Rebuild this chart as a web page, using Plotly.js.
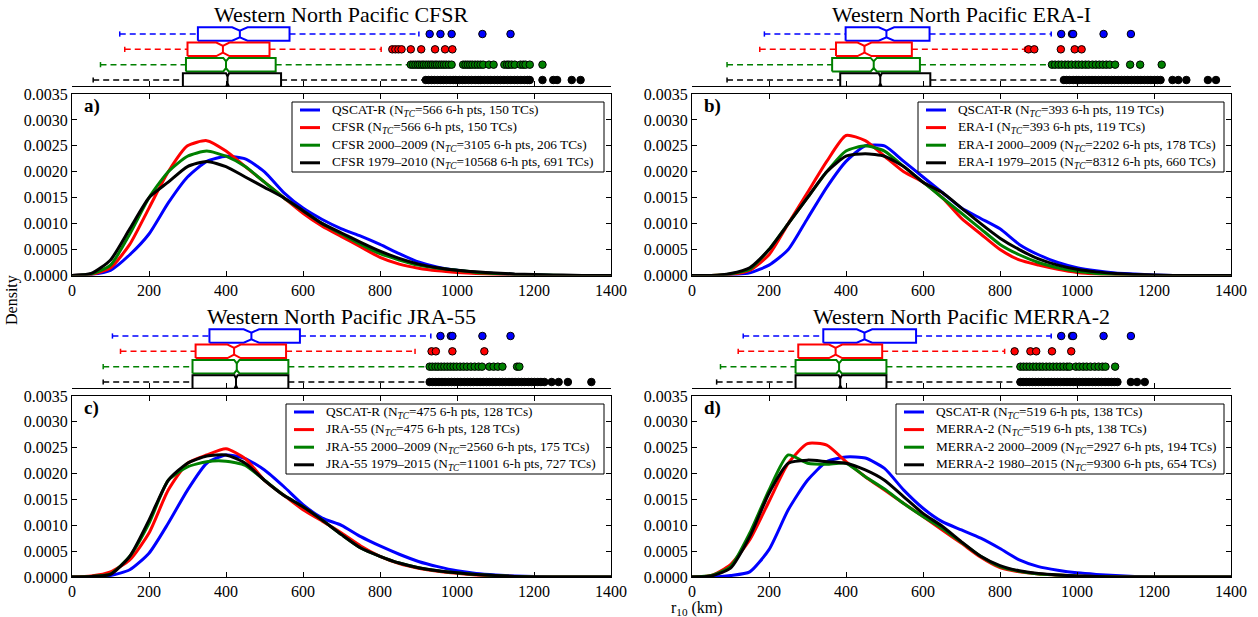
<!DOCTYPE html>
<html><head><meta charset="utf-8">
<script src="https://cdn.plot.ly/plotly-3.0.1.min.js"></script>
<style>html,body{margin:0;padding:0;background:#fff}#chart{width:1258px;height:617px}</style>
</head><body><div id="chart"></div>
<script>
// ---------- data ----------
const xGrid = [0,50,100,150,200,250,300,350,400,450,500,550,600,650,700,750,800,850,900,950,1000,1050,1100,1150,1200,1250,1300,1350,1400];
const xTicks = [0,200,400,600,800,1000,1200,1400];

// panel a: CFSR
const aQscat = [0,0.00002,0.0001,0.0004,0.0008,0.0014,0.0019,0.0022,0.0023,0.00225,0.002,0.0016,0.0013,0.00108,0.0009,0.00076,0.0006,0.00042,0.00026,0.00016,0.0001,0.00006,0.00004,0.00002,0.00001,0,0,0,0];
const aRean = [0,0.00002,0.00015,0.0006,0.0013,0.002,0.0025,0.0026,0.0024,0.0021,0.0018,0.0015,0.0012,0.00095,0.00075,0.00055,0.00035,0.00022,0.00014,0.00009,0.00006,0.00004,0.00002,0.00001,0,0,0,0,0];
const aRean0009 = [0,0.00003,0.0002,0.0008,0.0015,0.002,0.0023,0.0024,0.0023,0.0021,0.0018,0.0015,0.00125,0.001,0.0008,0.0006,0.00042,0.0003,0.0002,0.00014,0.0001,0.00006,0.00004,0.00002,0.00001,0.000005,0,0,0];
const aReanAll = [0,0.00004,0.0003,0.0009,0.0015,0.0018,0.0021,0.0022,0.0021,0.0019,0.0017,0.0015,0.00125,0.001,0.00082,0.00064,0.00047,0.00033,0.00022,0.00015,0.0001,0.00007,0.00005,0.00003,0.00002,0.00001,0.000005,0,0];
const aNames = ['QSCAT-R (N<sub><i>TC</i></sub>=566 6-h pts, 150 TCs)','CFSR (N<sub><i>TC</i></sub>=566 6-h pts, 150 TCs)','CFSR 2000–2009 (N<sub><i>TC</i></sub>=3105 6-h pts, 206 TCs)','CFSR 1979–2010 (N<sub><i>TC</i></sub>=10568 6-h pts, 691 TCs)'];
const aLow = [124,137,74,55];
const aQ1 = [327,300,296,288];
const aMed = [436,392,400,404];
const aQ3 = [565,513,529,543];
const aHigh = [901,803,880,919];
const aNotch = [20,17,7,4];
const aOutBlue = [929,957,986,1066,1139];
const aOutRed = [832,840,848,856,880,907,943,969,988];
const aOutGreen = [880,886,892,898,903,909,914,920,926,932,937,943,948,954,960,966,972,979,986,1016,1022,1028,1034,1040,1047,1054,1061,1068,1083,1095,1123,1130,1135,1142,1150,1165,1172,1178,1189,1222];
const aOutBlack = [919,926,934,941,950,958,965,973,982,990,997,1006,1014,1021,1030,1038,1047,1055,1062,1071,1080,1088,1097,1105,1113,1122,1131,1140,1149,1157,1166,1175,1183,1189,1222,1250,1260,1298,1321];

// panel b: ERA-I
const bQscat = [0,0,0.00001,0.00005,0.0002,0.0005,0.0011,0.0017,0.0022,0.0025,0.0025,0.0022,0.0019,0.0016,0.0013,0.0011,0.0009,0.0006,0.0004,0.00025,0.00015,0.00009,0.00005,0.00003,0.00001,0,0,0,0];
const bRean = [0,0,0.00002,0.0001,0.0004,0.001,0.0016,0.0022,0.0027,0.0026,0.0023,0.002,0.0018,0.0015,0.0011,0.0008,0.0005,0.0003,0.0002,0.00012,0.00006,0.00003,0.00002,0.00001,0,0,0,0,0];
const bRean0009 = [0,0,0.00003,0.00012,0.0005,0.001,0.0015,0.002,0.0024,0.0025,0.0024,0.0021,0.0018,0.0015,0.0012,0.0009,0.0006,0.0004,0.00025,0.00015,0.00008,0.00004,0.00002,0.00001,0,0,0,0,0];
const bReanAll = [0,0,0.00004,0.00015,0.0005,0.001,0.0015,0.002,0.0023,0.00235,0.0023,0.0021,0.0018,0.0016,0.0013,0.001,0.00072,0.0005,0.00032,0.0002,0.00012,0.00007,0.00004,0.00002,0.00001,0,0,0,0];
const bNames = ['QSCAT-R (N<sub><i>TC</i></sub>=393 6-h pts, 119 TCs)','ERA-I (N<sub><i>TC</i></sub>=393 6-h pts, 119 TCs)','ERA-I 2000–2009 (N<sub><i>TC</i></sub>=2202 6-h pts, 178 TCs)','ERA-I 1979–2015 (N<sub><i>TC</i></sub>=8312 6-h pts, 660 TCs)'];
const bLow = [188,176,91,91];
const bQ1 = [399,374,364,385];
const bMed = [505,448,472,489];
const bQ3 = [617,571,592,619];
const bHigh = [933,864,930,966];
const bNotch = [20,18,8,4];
const bOutBlue = [959,987,990,1069,1140];
const bOutRed = [874,889,958,994,1012];
const bOutGreen = [935,943,952,960,969,977,986,996,1004,1013,1022,1030,1040,1049,1058,1067,1076,1085,1099,1138,1164,1220];
const bOutBlack = [966,973,981,990,998,1005,1014,1022,1031,1039,1047,1056,1064,1073,1081,1090,1098,1107,1115,1124,1132,1141,1150,1158,1166,1175,1184,1192,1201,1209,1217,1248,1263,1284,1340,1361];

// panel c: JRA-55
const cQscat = [0,0.00001,0.00003,0.00014,0.00046,0.00104,0.00168,0.0022,0.00236,0.00229,0.00207,0.00175,0.0014,0.00114,0.001,0.00078,0.0006,0.00044,0.0003,0.0002,0.00012,0.00007,0.00004,0.00002,0.00001,0,0,0,0];
const cRean = [0,0.00002,0.0001,0.00033,0.00085,0.00168,0.0022,0.00236,0.00248,0.00229,0.00187,0.00158,0.0013,0.00108,0.00085,0.0006,0.0004,0.00026,0.00017,0.00011,0.00007,0.00004,0.00002,0.00001,0,0,0,0,0];
const cRean0009 = [0,0.00001,0.00006,0.0004,0.00104,0.00187,0.00213,0.00223,0.00224,0.00216,0.00187,0.00158,0.00136,0.0011,0.00082,0.00056,0.0004,0.00027,0.00018,0.00012,0.00008,0.00005,0.00003,0.00001,0,0,0,0,0];
const cReanAll = [0,0.00001,0.00005,0.0004,0.0011,0.00187,0.0022,0.00234,0.00236,0.0022,0.00187,0.00158,0.00136,0.0011,0.00082,0.00056,0.0004,0.00027,0.00018,0.00012,0.00008,0.00005,0.00003,0.00001,0,0,0,0,0];
const cNames = ['QSCAT-R (N<sub><i>TC</i></sub>=475 6-h pts, 128 TCs)','JRA-55 (N<sub><i>TC</i></sub>=475 6-h pts, 128 TCs)','JRA-55 2000–2009 (N<sub><i>TC</i></sub>=2560 6-h pts, 175 TCs)','JRA-55 1979–2015 (N<sub><i>TC</i></sub>=11001 6-h pts, 727 TCs)'];
const cLow = [105,126,81,81];
const cQ1 = [357,321,313,313];
const cMed = [466,421,428,426];
const cQ3 = [592,556,562,562];
const cHigh = [932,891,929,929];
const cNotch = [20,17,7,4];
const cOutBlue = [957,984,988,1066,1139];
const cOutRed = [934,945,988,1071];
const cOutGreen = [929,936,944,951,959,967,975,983,991,999,1008,1017,1026,1036,1046,1056,1065,1084,1095,1106,1118,1156,1162];
const cOutBlack = [929,937,945,953,961,969,978,986,994,1002,1010,1019,1027,1035,1043,1052,1060,1068,1077,1085,1093,1101,1110,1118,1126,1135,1143,1151,1160,1168,1176,1185,1193,1201,1210,1218,1227,1246,1264,1288,1349];

// panel d: MERRA-2
const dQscat = [0,0,0.00003,0.0001,0.00053,0.0013,0.00187,0.00223,0.00232,0.0023,0.0021,0.00168,0.00133,0.00107,0.00091,0.00075,0.00055,0.00033,0.0002,0.00013,0.00008,0.00005,0.00003,0.00001,0,0,0,0,0];
const dRean = [0,0.00003,0.00024,0.00072,0.00146,0.0022,0.00258,0.00255,0.00223,0.00194,0.00168,0.00142,0.00117,0.00091,0.00065,0.00038,0.00018,0.0001,0.00006,0.00004,0.00002,0.00001,0,0,0,0,0,0,0];
const dRean0009 = [0,0.00003,0.0002,0.00085,0.00168,0.00236,0.0022,0.00218,0.0022,0.00194,0.0017,0.00142,0.00117,0.00094,0.00067,0.0004,0.0002,0.00011,0.00006,0.00004,0.00002,0.00001,0,0,0,0,0,0,0];
const dReanAll = [0,0.00002,0.00017,0.00078,0.00162,0.0022,0.00226,0.00223,0.0022,0.00207,0.00187,0.00155,0.00123,0.00098,0.00068,0.0004,0.00022,0.00012,0.00007,0.00004,0.00002,0.00001,0,0,0,0,0,0,0];
const dNames = ['QSCAT-R (N<sub><i>TC</i></sub>=519 6-h pts, 138 TCs)','MERRA-2 (N<sub><i>TC</i></sub>=519 6-h pts, 138 TCs)','MERRA-2 2000–2009 (N<sub><i>TC</i></sub>=2927 6-h pts, 194 TCs)','MERRA-2 1980–2015 (N<sub><i>TC</i></sub>=9300 6-h pts, 654 TCs)'];
const dLow = [133,120,74,64];
const dQ1 = [341,276,269,269];
const dMed = [448,373,382,385];
const dQ3 = [582,494,505,505];
const dHigh = [933,812,853,853];
const dNotch = [20,17,7,4];
const dOutBlue = [959,987,990,1069,1140];
const dOutRed = [838,879,894,935,985];
const dOutGreen = [853,861,869,877,886,894,903,911,920,929,938,947,956,965,974,981,997,1006,1016,1025,1035,1046,1056,1066,1074,1099];
const dOutBlack = [853,860,868,876,884,892,900,908,916,925,933,941,949,957,966,974,982,990,998,1007,1015,1023,1031,1040,1048,1056,1064,1073,1081,1089,1097,1105,1140,1156,1176];

const titles = ['Western North Pacific CFSR','Western North Pacific ERA-I','Western North Pacific JRA-55','Western North Pacific MERRA-2'];
const tags = ['a)','b)','c)','d)'];

// ---------- drawing ----------
const COLORS = ['#0000ff','#ff0000','#008000','#000000'];
const FONT = 'Liberation Serif';
const W = 1258, H = 617;
const fx = p => p / W;
const fy = p => 1 - p / H;

const panels = [
  {xl:72, xr:611, top:94, bot:275.5, sTop:22, sBot:86, legW:312, curves:[aQscat,aRean,aRean0009,aReanAll], names:aNames, low:aLow,q1:aQ1,med:aMed,q3:aQ3,high:aHigh,notch:aNotch, outs:[aOutBlue,aOutRed,aOutGreen,aOutBlack]},
  {xl:692, xr:1231, top:94, bot:275.5, sTop:22, sBot:86, legW:306, curves:[bQscat,bRean,bRean0009,bReanAll], names:bNames, low:bLow,q1:bQ1,med:bMed,q3:bQ3,high:bHigh,notch:bNotch, outs:[bOutBlue,bOutRed,bOutGreen,bOutBlack]},
  {xl:72, xr:611, top:396, bot:577, sTop:324, sBot:388, legW:318, curves:[cQscat,cRean,cRean0009,cReanAll], names:cNames, low:cLow,q1:cQ1,med:cMed,q3:cQ3,high:cHigh,notch:cNotch, outs:[cOutBlue,cOutRed,cOutGreen,cOutBlack]},
  {xl:692, xr:1231, top:396, bot:577, sTop:324, sBot:388, legW:328, curves:[dQscat,dRean,dRean0009,dReanAll], names:dNames, low:dLow,q1:dQ1,med:dMed,q3:dQ3,high:dHigh,notch:dNotch, outs:[dOutBlue,dOutRed,dOutGreen,dOutBlack]}
];

const traces = [];
const layout = {
  width: W, height: H, margin:{l:0,r:0,t:0,b:0},
  paper_bgcolor:'#fff', plot_bgcolor:'rgba(0,0,0,0)',
  font:{family:FONT, size:15, color:'#000'},
  showlegend:false, annotations:[], shapes:[]
};
const SPAN = 15.33; // px per strip row
panels.forEach((p, k) => {
  const n = k + 1, s = k + 5;
  const xd = 'x' + (n === 1 ? '' : n), yd = 'y' + (n === 1 ? '' : n);
  const xs = 'x' + s, ys = 'y' + s;
  layout['xaxis' + (n === 1 ? '' : n)] = {
    domain:[fx(p.xl), fx(p.xr)], anchor: yd, range:[0,1400], tickvals:xTicks,
    ticks:'inside', ticklen:5, tickcolor:'#000', showline:true, linecolor:'#000', linewidth:1,
    mirror:'allticks', showgrid:false, zeroline:false, tickfont:{family:FONT,size:16,color:'#000'}
  };
  layout['yaxis' + (n === 1 ? '' : n)] = {
    domain:[fy(p.bot), fy(p.top)], anchor: xd, range:[0,0.0035], dtick:0.0005, tick0:0,
    tickformat:'.4f', ticks:'inside', ticklen:5, tickcolor:'#000', showline:true, linecolor:'#000',
    linewidth:1, mirror:'allticks', showgrid:false, zeroline:false, tickfont:{family:FONT,size:16,color:'#000'}
  };
  layout['xaxis' + s] = {
    domain:[fx(p.xl), fx(p.xr)], anchor: ys, range:[0,1400], tickvals:xTicks,
    ticks:'inside', ticklen:5, tickcolor:'#000', showline:true, linecolor:'#000', linewidth:1,
    showticklabels:false, showgrid:false, zeroline:false
  };
  layout['yaxis' + s] = {
    domain:[fy(p.sBot), fy(p.sTop)], anchor: xs,
    range:[1 - 6 / SPAN, 1 + (p.sBot - 6 - p.sTop) / SPAN],
    visible:false, showgrid:false, zeroline:false
  };
  p.curves.forEach((c, i) => {
    traces.push({type:'scatter', mode:'lines', x:xGrid, y:c, xaxis:xd, yaxis:yd,
      name:p.names[i], showlegend:false,
      line:{color:COLORS[i], width:3, shape:'spline', smoothing:0.6}, hoverinfo:'skip'});
  });
  // legend (drawn as box + samples + labels)
  const lr = p.xr - 7, ll = lr - p.legW, lt = p.top + 8, lb = p.top + 78;
  layout.shapes.push({type:'rect', xref:'paper', yref:'paper', x0:fx(ll), x1:fx(lr), y0:fy(lb), y1:fy(lt),
    line:{color:'#000', width:1}, fillcolor:'#fff', layer:'above'});
  p.names.forEach((nm, i) => {
    const ry = p.top + 16 + i * 17.6;
    layout.shapes.push({type:'line', xref:'paper', yref:'paper', x0:fx(ll + 8), x1:fx(ll + 28), y0:fy(ry), y1:fy(ry),
      line:{color:COLORS[i], width:3}, layer:'above'});
    layout.annotations.push({xref:'paper', yref:'paper', x:fx(ll + 38), y:fy(ry), text:nm, showarrow:false,
      xanchor:'left', yanchor:'middle', font:{family:FONT, size:13.3, color:'#000'}});
  });
  for (let i = 0; i < 4; i++) {
    const yc = 4 - i, h = 0.44, hc = 0.22, cw = 0.17;
    const q1 = p.q1[i], m = p.med[i], q3 = p.q3[i], nn = p.notch[i];
    traces.push({type:'scatter', mode:'lines', xaxis:xs, yaxis:ys, showlegend:false, hoverinfo:'skip',
      x:[q1, m-nn, m, m+nn, q3, q3, m+nn, m, m-nn, q1, q1, null, m, m],
      y:[yc-h, yc-h, yc-hc, yc-h, yc-h, yc+h, yc+h, yc+hc, yc+h, yc+h, yc-h, null, yc-hc, yc+hc],
      line:{color:COLORS[i], width:2}});
    traces.push({type:'scatter', mode:'lines', xaxis:xs, yaxis:ys, showlegend:false, hoverinfo:'skip',
      x:[p.low[i], q1, null, q3, p.high[i]], y:[yc, yc, null, yc, yc],
      line:{color:COLORS[i], width:1.5, dash:'6px,4px'}});
    traces.push({type:'scatter', mode:'lines', xaxis:xs, yaxis:ys, showlegend:false, hoverinfo:'skip',
      x:[p.low[i], p.low[i], null, p.high[i], p.high[i]], y:[yc-cw, yc+cw, null, yc-cw, yc+cw],
      line:{color:COLORS[i], width:1.5}});
    traces.push({type:'scatter', mode:'markers', xaxis:xs, yaxis:ys, showlegend:false, hoverinfo:'skip',
      x:p.outs[i], y:p.outs[i].map(() => yc),
      marker:{color:COLORS[i], size:7.5, line:{color:'#000', width:1}}});
  }
  layout.annotations.push({xref:'paper', yref:'paper', x:fx((p.xl + p.xr) / 2), y:fy(p.sTop - 8),
    text:titles[k], showarrow:false, xanchor:'center', yanchor:'middle', font:{family:FONT, size:22, color:'#000'}});
  layout.annotations.push({xref:'paper', yref:'paper', x:fx(p.xl + 10), y:fy(p.top + 12),
    text:'<b>' + tags[k] + '</b>', showarrow:false, xanchor:'left', yanchor:'middle', font:{family:FONT, size:19, color:'#000'}});
});
layout.annotations.push({xref:'paper', yref:'paper', x:fx(12), y:fy(300), text:'Density', textangle:-90,
  showarrow:false, xanchor:'center', yanchor:'middle', font:{family:FONT, size:16, color:'#000'}});
layout.annotations.push({xref:'paper', yref:'paper', x:fx(697), y:fy(608), text:'r<sub>10</sub> (km)',
  showarrow:false, xanchor:'center', yanchor:'middle', font:{family:FONT, size:16, color:'#000'}});

Plotly.newPlot('chart', traces, layout, {staticPlot:true, displayModeBar:false});
</script>
</body></html>
